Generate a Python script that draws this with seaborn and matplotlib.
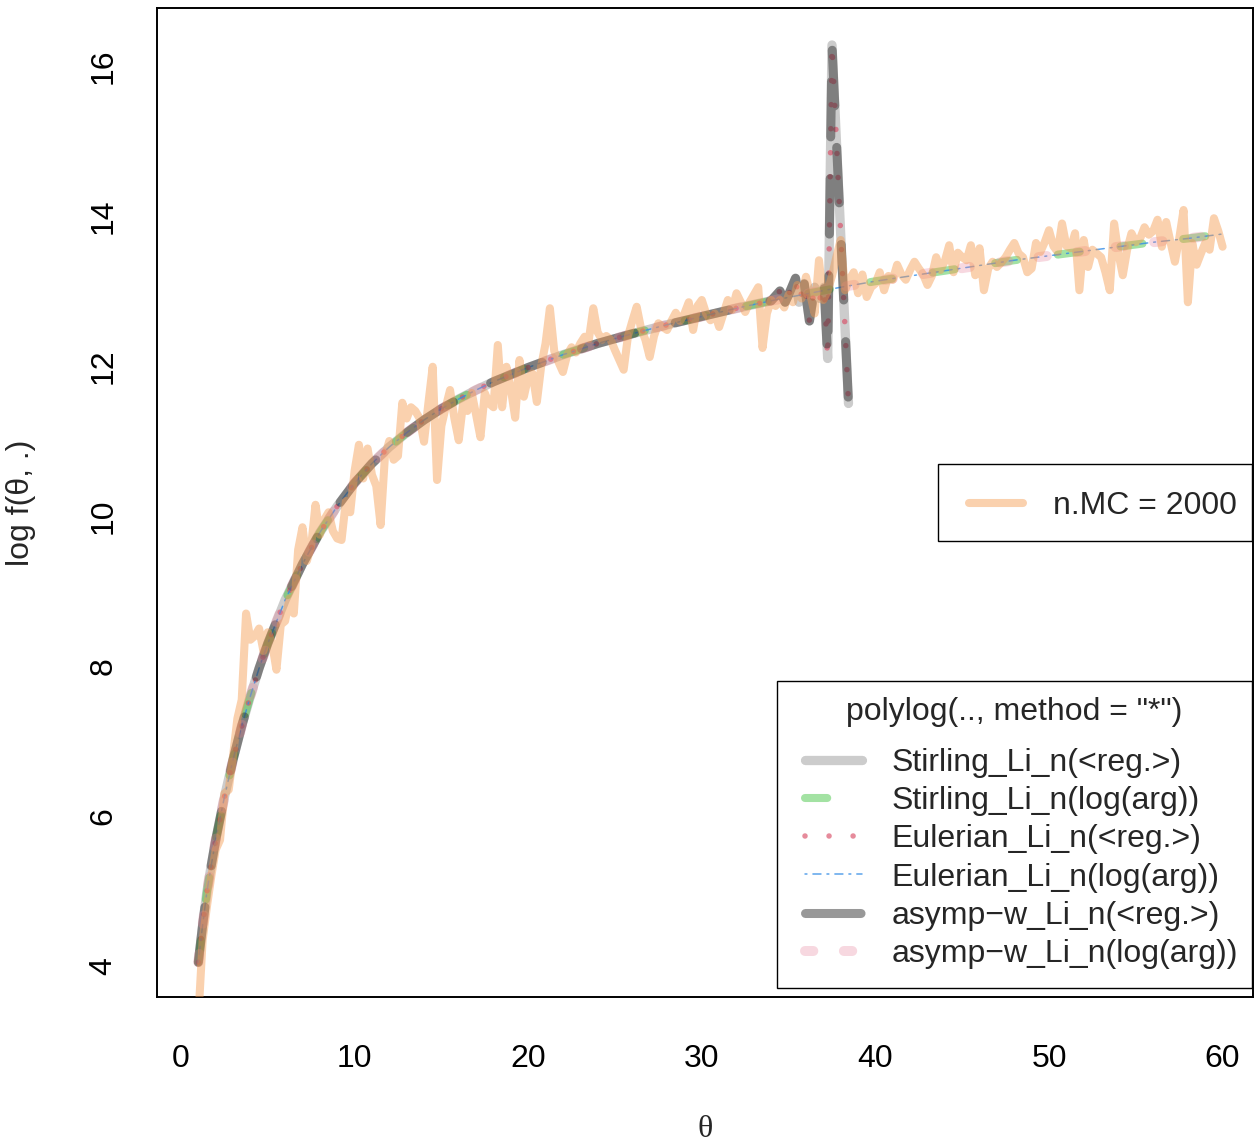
import numpy as np
import matplotlib
matplotlib.use("Agg")
import matplotlib.pyplot as plt
import seaborn as sns
from matplotlib.lines import Line2D
from matplotlib.patches import Rectangle

# glatte Kurve der log(arg)-Methoden
theta_s = [1, 1.25, 1.5, 1.75, 2, 2.5, 3, 3.5, 4, 4.5, 5, 6, 7, 8, 9, 10, 11, 12, 13, 14,
           15, 16, 17, 18, 20, 22, 24, 26, 28, 30, 32, 34, 36, 38, 40, 42, 44, 46, 48, 50,
           52, 54, 56, 58, 60]
logf_s = [4.05, 4.55, 5.00, 5.35, 5.68, 6.25, 6.75, 7.20, 7.60, 7.97, 8.30, 8.88, 9.36, 9.78,
          10.13, 10.44, 10.70, 10.92, 11.11, 11.28, 11.43, 11.56, 11.68, 11.79, 11.98, 12.15,
          12.30, 12.43, 12.55, 12.66, 12.77, 12.87, 12.96, 13.05, 13.13, 13.20, 13.27, 13.34,
          13.41, 13.47, 13.53, 13.59, 13.65, 13.70, 13.76]

# <reg.>-Methoden: wie oben bis theta = 34, danach instabil
theta_reg_tail = [34.5, 34.8, 35.0, 35.4, 35.6, 35.9, 36.2, 36.5, 36.8, 37.05, 37.25, 37.5, 38.45]
logf_reg_tail = [13.00, 12.85, 12.95, 13.17, 12.85, 13.10, 12.60, 13.05, 12.90, 13.05, 12.10,
                 16.28, 11.50]

# Monte-Carlo-Schaetzung, n.MC = 2000 (theta = 1, 1.25, ..., 60)
theta_mc = np.linspace(1, 60, 237)
logf_mc = [
    3.30, 4.35, 4.80, 5.20, 5.55, 5.68, 6.30, 6.35, 6.80, 7.30, 7.55, 8.70, 8.35, 8.40, 8.50, 8.20, 8.45,
    8.30, 7.95, 8.55, 8.60, 8.90, 8.70, 9.55, 9.85, 9.40, 9.60, 10.15, 9.75, 9.95, 10.05, 9.80, 9.70, 9.68, 10.20, 10.05, 10.60,
    10.95, 10.50, 10.90, 10.55, 10.40, 9.88, 10.80, 11.00, 10.75, 10.80, 11.51, 11.30, 11.45, 11.40, 11.30, 10.99, 11.50, 11.99, 10.48, 11.20,
    11.45, 11.68, 11.30, 11.01, 11.50, 11.40, 11.64, 11.35, 11.05, 11.64, 11.50, 11.45, 12.28, 11.45, 11.99, 11.70, 11.31, 12.08, 11.59, 11.85,
    11.90, 11.52, 12.00, 12.30, 12.77, 12.20, 12.05, 11.92, 12.15, 12.25, 12.18, 12.30, 12.39, 12.36, 12.77, 12.45, 12.35, 12.40, 12.35, 12.21,
    12.08, 11.95, 12.40, 12.60, 12.79, 12.50, 12.35, 12.12, 12.40, 12.57, 12.52, 12.48, 12.60, 12.71, 12.60, 12.70, 12.85, 12.48, 12.80, 12.88,
    12.70, 12.61, 12.70, 12.52, 12.70, 12.88, 12.75, 12.97, 12.85, 12.72, 12.85, 12.95, 13.05, 12.24, 12.70, 12.88, 12.80, 12.88, 12.78, 12.95,
    12.85, 13.08, 12.90, 13.19, 12.95, 12.70, 13.41, 12.88, 13.00, 13.20, 13.45, 13.68, 13.01, 13.15, 13.25, 12.97, 13.22, 12.92, 13.05, 13.10,
    13.25, 13.01, 13.20, 13.15, 13.35, 13.22, 13.15, 13.28, 13.39, 13.30, 13.22, 13.08, 13.20, 13.45, 13.28, 13.40, 13.61, 13.25, 13.51, 13.45,
    13.41, 13.61, 13.21, 13.57, 13.01, 13.30, 13.39, 13.32, 13.38, 13.45, 13.55, 13.64, 13.50, 13.45, 13.25, 13.30, 13.64, 13.52, 13.65, 13.81,
    13.60, 13.52, 13.90, 13.60, 13.57, 13.77, 13.01, 13.68, 13.32, 13.55, 13.50, 13.45, 13.25, 13.01, 13.90, 13.50, 13.21, 13.55, 13.77, 13.65,
    13.70, 13.85, 13.75, 13.80, 13.95, 13.59, 13.92, 13.65, 13.39, 13.70, 14.08, 12.85, 13.64, 13.35, 13.50, 13.64, 13.55, 13.97, 13.80, 13.59,
]

theta_reg = [t for t in theta_s if t <= 34] + theta_reg_tail
logf_reg = [v for t, v in zip(theta_s, logf_s) if t <= 34] + logf_reg_tail

method_labels = ["Stirling_Li_n(<reg.>)", "Stirling_Li_n(log(arg))",
                 "Eulerian_Li_n(<reg.>)", "Eulerian_Li_n(log(arg))",
                 "asymp\u2212w_Li_n(<reg.>)", "asymp\u2212w_Li_n(log(arg))"]

# Stil pro Methode
styles = [
    dict(color=(0.5, 0.5, 0.5, 0.4), lw=6.7, ls="-"),
    dict(color=(0.2, 0.75, 0.2, 0.45), lw=5.8, ls=(0, (16, 29.5))),
    dict(color=(0.85, 0.3, 0.4, 0.65), lw=4.0, ls=(0, (0.01, 17.3))),
    dict(color=(0.2, 0.55, 0.9, 0.8), lw=1.1, ls=(0, (1.4, 4.3, 5.8, 4.3))),
    dict(color=(0.2, 0.2, 0.2, 0.5), lw=6.5, ls=(0, (40, 30))),
    dict(color=(0.9, 0.5, 0.6, 0.3), lw=7.2, ls=(0, (6, 22))),
]
mc_style = dict(color=(0.96, 0.6, 0.3, 0.45), lw=5.8, ls="-")
series = [(theta_reg, logf_reg), (theta_s, logf_s),
          (theta_reg, logf_reg), (theta_s, logf_s),
          (theta_reg, logf_reg), (theta_s, logf_s)]

FS = 23

sns.set_style("white")
plt.rcParams["font.family"] = ["Liberation Sans", "DejaVu Sans"]
plt.rcParams["lines.scale_dashes"] = False
plt.rcParams["axes.linewidth"] = 1.4

W, H = 1259, 1146
fig = plt.figure(figsize=(W / 100, H / 100), dpi=100)
ax = fig.add_axes([157 / W, 1 - 997 / H, (1253 - 157) / W, (997 - 8) / H])

for i, ((x, y), st) in enumerate(zip(series, styles)):
    sns.lineplot(x=x, y=y, ax=ax, color=st["color"], lw=st["lw"], linestyle=st["ls"],
                 sort=False, estimator=None, solid_capstyle="round",
                 dash_capstyle="round", zorder=2 + i)
sns.lineplot(x=theta_mc, y=logf_mc, ax=ax, color=mc_style["color"], lw=mc_style["lw"],
             sort=False, estimator=None, solid_capstyle="round", zorder=10)

ax.set_xlim(-1.38, 61.75)
ax.set_ylim(3.587, 16.773)
ax.set_xticks([0, 10, 20, 30, 40, 50, 60])
ax.set_yticks([4, 6, 8, 10, 12, 14, 16])
ax.tick_params(axis="both", direction="out", length=13.7, width=1.4, labelsize=FS,
               color="black", labelcolor="black")
ax.tick_params(axis="x", pad=20)
ax.tick_params(axis="y", pad=14)
for lab in ax.get_yticklabels():
    lab.set_rotation(90)
    lab.set_va("center")
for sp in ax.spines.values():
    sp.set_color("black")
    sp.set_linewidth(1.4)

ax.set_xlabel("\u03b8", fontsize=FS, family=["Liberation Serif", "DejaVu Serif"], labelpad=30)
ax.set_ylabel("log f(\u03b8, .)", fontsize=FS, labelpad=38)

# Legende n.MC
h_mc = [Line2D([], [], color=mc_style["color"], lw=mc_style["lw"], solid_capstyle="round")]
leg1 = ax.legend(h_mc, ["n.MC = 2000"], loc="center left", frameon=False, fontsize=FS,
                 bbox_to_anchor=(969 / W, 1 - 506 / H), bbox_transform=fig.transFigure,
                 borderpad=0, borderaxespad=0, handlelength=1.69, handletextpad=0.94)
ax.add_artist(leg1)
fig.add_artist(Rectangle((938 / W, 1 - 541 / H), (1252 - 938) / W, (541 - 464) / H,
                         transform=fig.transFigure, fill=False, ec="black", lw=1.0))

# Legende der Methoden (Titel als eigener Text)
handles = [Line2D([], [], color=st["color"], lw=st["lw"], linestyle=st["ls"],
                  solid_capstyle="round", dash_capstyle="round") for st in styles]
leg2 = ax.legend(handles, method_labels, loc="upper left", frameon=False, fontsize=FS,
                 bbox_to_anchor=(776 / W, 1 - 719 / H), bbox_transform=fig.transFigure,
                 borderpad=0.9, borderaxespad=0, handlelength=1.79, handletextpad=0.92,
                 labelspacing=0.26)
fig.text(1014 / W, 1 - 712 / H, 'polylog(.., method = "*")', fontsize=FS,
         ha="center", va="center")
fig.add_artist(Rectangle((777 / W, 1 - 988 / H), (1252 - 777) / W, (988 - 681) / H,
                         transform=fig.transFigure, fill=False, ec="black", lw=1.0))

fig.savefig("out.png", dpi=100)
